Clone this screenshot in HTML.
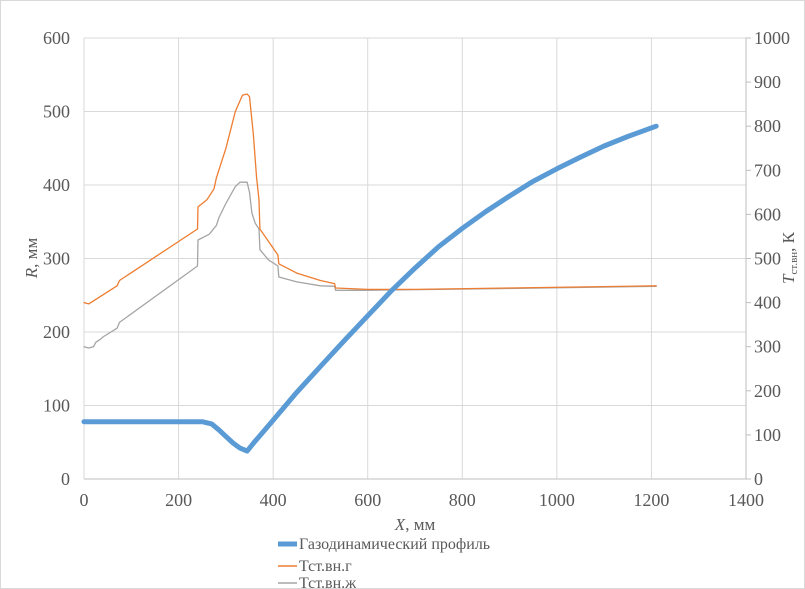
<!DOCTYPE html>
<html><head><meta charset="utf-8"><style>
body{margin:0;background:#fff}
svg{display:block;font-family:"Liberation Serif",serif}
</style></head><body>
<svg width="805" height="589" id="c">
<rect x="0.5" y="0.5" width="804" height="588" fill="#fff" stroke="#d9d9d9"/>
<g id="grid"></g><g id="series"></g><g id="ticks" font-size="18" fill="#595959"></g>
<text x="415" y="530" font-size="17" fill="#595959" text-anchor="middle"><tspan font-style="italic">X</tspan>, мм</text>
<text transform="translate(37,258) rotate(-90)" font-size="17" fill="#595959" text-anchor="middle"><tspan font-style="italic">R</tspan>, мм</text>
<text transform="translate(794,258) rotate(-90)" font-size="17" fill="#595959" text-anchor="middle"><tspan font-style="italic">T</tspan><tspan font-size="11" dy="3">ст.вн</tspan><tspan dy="-3">, К</tspan></text>
<g font-size="16" fill="#595959">
<line x1="278" y1="544" x2="297" y2="544" stroke="#5b9bd5" stroke-width="5"/>
<text x="299" y="549">Газодинамический профиль</text>
<line x1="278" y1="566" x2="297" y2="566" stroke="#ed7d31" stroke-width="1.5"/>
<text x="299" y="571">Тст.вн.г</text>
<line x1="278" y1="583" x2="297" y2="583" stroke="#a5a5a5" stroke-width="1.5"/>
<text x="299" y="588">Тст.вн.ж</text>
</g>
</svg>
<script>
const xTicks=[0,200,400,600,800,1000,1200,1400];
const yTicks=[0,100,200,300,400,500,600];
const y2Ticks=[0,100,200,300,400,500,600,700,800,900,1000];
const profX=[0,100,200,250,270,285,300,315,330,345,360,380,400,450,500,550,600,650,700,750,800,850,900,950,1000,1050,1100,1150,1210];
const profR=[78,78,78,78,75,67,58,49,42,38,50,65,80,118,153,188,222,256,287,316,341,364,385,405,422,438,453,466,480];
const tgX=[0,10,70,75,240,241,260,275,280,300,320,335,345,350,358,365,370,372,410,412,450,500,530,532,600,700,900,1210];
const tgT=[400,397,438,450,567,617,633,658,683,750,833,870,873,867,783,683,633,567,508,488,467,450,443,433,430,430,433,438];
const tzX=[0,10,20,25,35,40,70,75,240,241,265,280,285,300,320,330,345,350,355,362,370,372,390,410,412,450,500,530,532,600,900,1210];
const tzT=[300,297,300,310,317,322,342,355,483,542,555,575,592,625,663,673,673,650,603,580,567,520,497,483,458,447,438,437,428,428,432,437];
const L=84,R=746,T=38,B=479;
const sx=v=>L+(v/1400)*(R-L), sy=v=>B-(v/600)*(B-T), sy2=v=>B-(v/1000)*(B-T);
const NS="http://www.w3.org/2000/svg";
const grid=document.getElementById('grid'),ticks=document.getElementById('ticks'),ser=document.getElementById('series');
function mk(tag,at,p){const e=document.createElementNS(NS,tag);for(const k in at)e.setAttribute(k,at[k]);p.appendChild(e);return e;}
xTicks.forEach(v=>{const l=mk('line',{x1:sx(v),x2:sx(v),y1:T,y2:B,stroke:'#d9d9d9'},grid);


const t=mk('text',{x:sx(v),y:B+27,'text-anchor':'middle'},ticks);t.textContent=v;

});
yTicks.forEach(v=>{const l=mk('line',{x1:L,x2:R,y1:sy(v),y2:sy(v),stroke:'#d9d9d9'},grid);


const t=mk('text',{x:L-14,y:sy(v)+6,'text-anchor':'end'},ticks);t.textContent=v;

});
y2Ticks.forEach(v=>{const l=mk('line',{x1:R,x2:R+5,y1:sy2(v),y2:sy2(v),stroke:'#bfbfbf'},grid);


const t=mk('text',{x:R+8,y:sy2(v)+6},ticks);t.textContent=v;

});
const ax=mk('line',{x1:L,x2:R,y1:B,y2:B,stroke:'#bfbfbf'},grid);


const ax2=mk('line',{x1:R,x2:R,y1:T,y2:B,stroke:'#bfbfbf'},grid);


function path(xs,ys,fy,col,w,name){const d=xs.map((x,i)=>(i?'L':'M')+sx(x).toFixed(1)+','+fy(ys[i]).toFixed(1)).join('');
const p=mk('path',{d,fill:'none',stroke:col,'stroke-width':w,'stroke-linejoin':'round','stroke-linecap':'round'},ser);

}
path(tzX,tzT,sy2,'#a5a5a5',1.3,'series-tzh');
path(tgX,tgT,sy2,'#ed7d31',1.3,'series-tg');
path(profX,profR,sy,'#5b9bd5',5,'series-profile');
</script>
</body></html>
